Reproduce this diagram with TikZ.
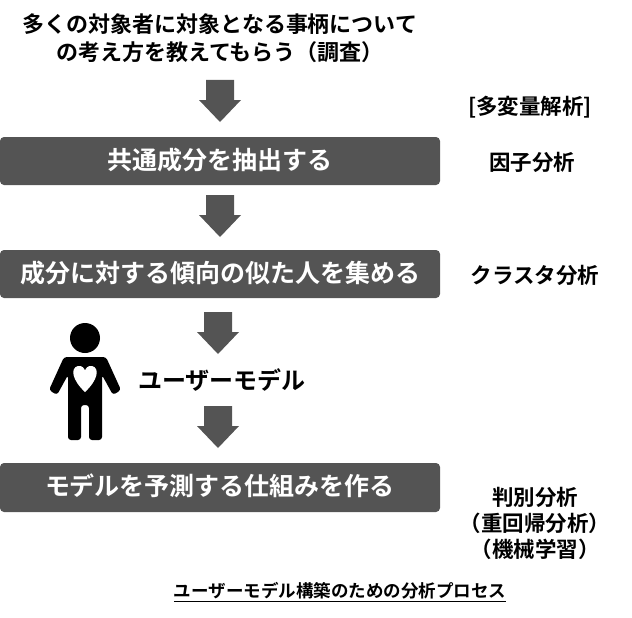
\documentclass[tikz,border=0pt]{standalone}
\usepackage{fontspec}
\setmainfont{Noto Sans CJK JP}[BoldFont={Noto Sans CJK JP Bold}]
\begin{document}
\begin{tikzpicture}[x=1pt,y=-1pt,
  bx/.style={fill=black!67,rounded corners=4pt,text=white,font=\bfseries\fontsize{25}{28}\selectfont},
  lbl/.style={font=\bfseries\fontsize{21.5}{24}\selectfont},
  dar/.style={fill=black!67}]
\useasboundingbox (0,0) rectangle (632,618);
\newcommand{\darrow}[2]{\fill[dar] (#1-14,#2) -- (#1+14,#2) -- (#1+14,#2+20) -- (#1+21,#2+20) -- (#1,#2+42) -- (#1-21,#2+20) -- (#1-14,#2+20) -- cycle;}
\node[lbl,align=center,font=\bfseries\fontsize{22}{24}\selectfont] (t) at (220,38) {多くの対象者に対象となる事柄について\\[4pt]の考え方を教えてもらう（調査）};
\darrow{220}{80}
\fill[bx] (0,137) rectangle (440,185); \node[bx,fill=none] (b1) at (220,160) {共通成分を抽出する};
\darrow{220}{195}
\fill[bx] (0,250) rectangle (440,298); \node[bx,fill=none] (b2) at (220,273) {成分に対する傾向の似た人を集める};
\darrow{218}{312}
\node[font=\bfseries\fontsize{24}{28}\selectfont] (um) at (222,380) {ユーザーモデル};
\darrow{218}{406}
\fill[bx] (0,463) rectangle (440,512); \node[bx,fill=none] (b3) at (220,486) {モデルを予測する仕組みを作る};
\node[lbl] (r0) at (530,107) {[多変量解析]};
\node[lbl] (r1) at (532,162) {因子分析};
\node[lbl] (r2) at (535,275) {クラスタ分析};
\node[lbl,align=center] (r3) at (535,523) {判別分析\\[2pt]（重回帰分析）\\[2pt]（機械学習）};
\node[font=\bfseries\fontsize{17.5}{20}\selectfont] (cap) at (340,592) {\underline{ユーザーモデル構築のための分析プロセス}};
% person
\fill (85,338) circle (15);
\fill[rounded corners=3pt] (64,357) -- (106,357) -- (121,390) -- (113,395) -- (102,375) -- (102,440) -- (89,440) -- (89,405) -- (81,405) -- (81,440) -- (68,440) -- (68,375) -- (57,395) -- (49,390) -- cycle;
\fill[white] (85,392) .. controls (72,380) and (70,368) .. (78,366) .. controls (82,365) and (85,369) .. (85,371) .. controls (85,369) and (88,365) .. (92,366) .. controls (100,368) and (98,380) .. (85,392) -- cycle;
\end{tikzpicture}
\end{document}
